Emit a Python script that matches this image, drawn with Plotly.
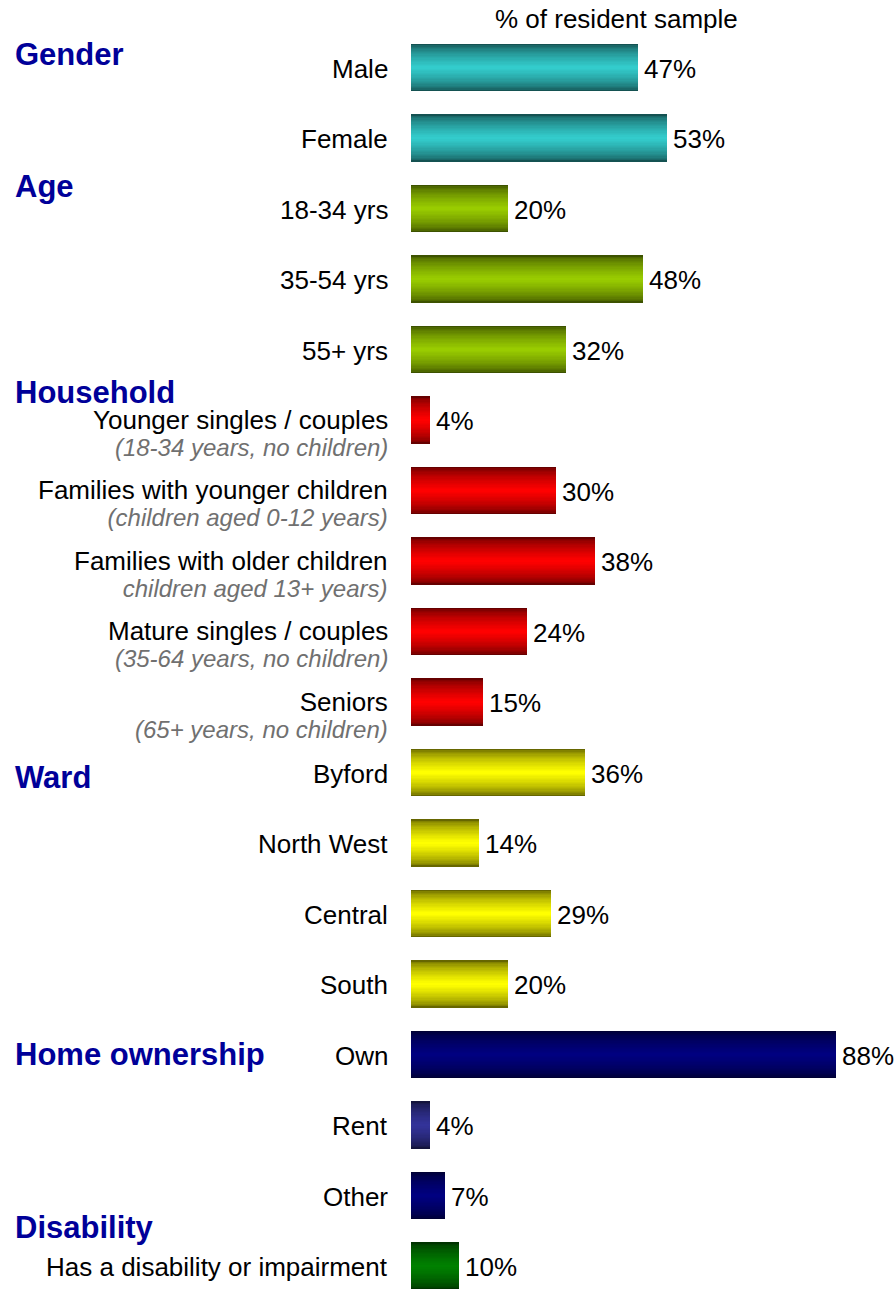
import plotly.graph_objects as go

# ---------------- data ----------------
categories = [
    "Male", "Female",
    "18-34 yrs", "35-54 yrs", "55+ yrs",
    "Younger singles / couples", "Families with younger children",
    "Families with older children", "Mature singles / couples", "Seniors",
    "Byford", "North West", "Central", "South",
    "Own", "Rent", "Other",
    "Has a disability or impairment",
]
values = [47, 53, 20, 48, 32, 4, 30, 38, 24, 15, 36, 14, 29, 20, 88, 4, 7, 10]
sublabels = [
    "", "", "", "", "",
    "(18-34 years, no children)", "(children aged 0-12 years)",
    "children aged 13+ years)", "(35-64 years, no children)", "(65+ years, no children)",
    "", "", "", "", "", "", "", "",
]
group_names = ["Gender", "Age", "Household", "Ward", "Home ownership", "Disability"]
group_first = ["Male", "18-34 yrs", "Younger singles / couples", "Byford", "Own",
               "Has a disability or impairment"]
bar_colors = (["#33CCCC"] * 2 + ["#99CC00"] * 3 + ["#FF0000"] * 5 + ["#FFFF00"] * 4
              + ["#000080", "#333399", "#000080"] + ["#008000"])
axis_title = "% of resident sample"

# ---------------- style ----------------
W, H = 895, 1289
ML, MR = 411, 1
FONT = "Arial, 'Liberation Sans', sans-serif"
header_shift = [13.5, 22.5, 28, -5, 0, 39]
BAR_W = 0.667
N_LAYERS = 18
EDGE = 0.40


def hex2rgb(h):
    h = h.lstrip("#")
    return tuple(int(h[i:i + 2], 16) for i in (0, 2, 4))


def mix(c, f):
    r, g, b = hex2rgb(c)
    k = EDGE + (1 - EDGE) * f
    return "rgb(%d,%d,%d)" % (round(r * k), round(g * k), round(b * k))


fig = go.Figure()
for k in range(N_LAYERS):
    frac = k / (N_LAYERS - 1)
    f = frac ** 0.6
    fig.add_trace(go.Bar(
        x=values, y=categories, orientation="h",
        width=BAR_W * (1 - k / N_LAYERS),
        marker=dict(color=[mix(c, f) for c in bar_colors], line=dict(width=0)),
        hoverinfo="skip", showlegend=False,
    ))

annotations = []
# value labels
for cat, v in zip(categories, values):
    annotations.append(dict(
        xref="x", yref="y", x=v, y=cat, xanchor="left", yanchor="middle",
        xshift=4, yshift=-1, text="%d%%" % v, showarrow=False,
        font=dict(family=FONT, size=26, color="#000000"),
    ))

# category labels (with optional grey italic sub-line)
for cat, sub in zip(categories, sublabels):
    if sub:
        txt = ("<span style='font-size:26px;color:#000000'>%s</span><br>"
               "<i><span style='font-size:24px;color:#707070'>%s</span></i>" % (cat, sub))
        annotations.append(dict(
            xref="paper", yref="y", x=0, y=cat, xanchor="right", yanchor="middle",
            xshift=-21, yshift=-12.5, text=txt, showarrow=False, align="right",
            font=dict(family=FONT, size=20.8, color="#000000"),
        ))
    else:
        annotations.append(dict(
            xref="paper", yref="y", x=0, y=cat, xanchor="right", yanchor="middle",
            xshift=-21, yshift=-1, text=cat, showarrow=False,
            font=dict(family=FONT, size=26, color="#000000"),
        ))

plot_w = W - ML - MR
for name, first, sh in zip(group_names, group_first, header_shift):
    annotations.append(dict(
        xref="paper", yref="y", x=(13 - ML) / plot_w, y=first,
        xanchor="left", yanchor="middle", yshift=sh,
        text="<b>%s</b>" % name, showarrow=False,
        font=dict(family=FONT, size=31, color="#000099"),
    ))

annotations.append(dict(
    xref="paper", yref="paper", x=(616 - ML) / plot_w, y=1 - 19 / H,
    xanchor="center", yanchor="middle", text=axis_title, showarrow=False,
    font=dict(family=FONT, size=26, color="#000000"),
))

row_px = 70.5
first_px = 67.5
y_top = -first_px / row_px
y_bot = (H - first_px) / row_px

fig.update_layout(
    width=W, height=H,
    margin=dict(l=ML, r=MR, t=0, b=0, pad=0),
    paper_bgcolor="white", plot_bgcolor="white",
    barmode="overlay", bargap=0,
    xaxis=dict(range=[0, 100], visible=False, fixedrange=True),
    yaxis=dict(type="category", categoryorder="array", categoryarray=categories,
               range=[y_bot, y_top], visible=False, fixedrange=True),
    annotations=annotations,
    showlegend=False,
)

fig.write_html("out.html")
